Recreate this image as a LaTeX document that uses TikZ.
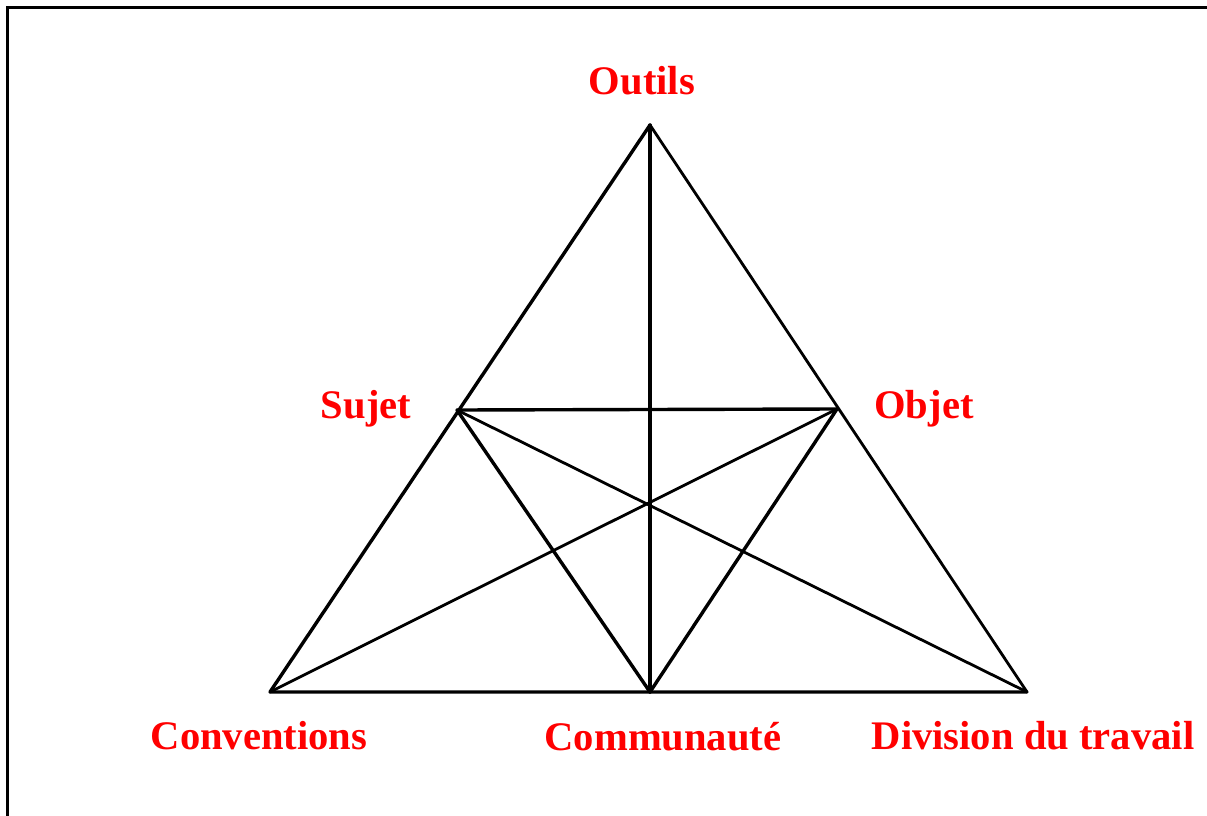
\documentclass[tikz,border=0pt]{standalone}
\usepackage{fontspec}
\setmainfont{Liberation Serif}
\begin{document}
\begin{tikzpicture}[x=1pt,y=-1pt,
  lbl/.style={text=red,font=\bfseries\fontsize{40.6}{48}\selectfont,anchor=base,inner sep=0pt},
  edge/.style={line width=3.4pt,line cap=round,line join=round},
  thin/.style={line width=2.8pt,line cap=round}]
\useasboundingbox (0,0) rectangle (1207,816);
\fill[white] (0,0) rectangle (1207,816);
\draw[line width=3pt] (7,816) -- (7,8) -- (1207,8);
\coordinate (O) at (650,125);
\coordinate (S) at (457,410);
\coordinate (B) at (837,409);
\coordinate (C) at (270,692);
\coordinate (M) at (650,692);
\coordinate (D) at (1027,692);
\draw[edge] (O) -- (C) -- (D);
\draw[thin] (D) -- (O);
\draw[edge] (O) -- (M);
\draw[edge] (S) -- (B);
\draw[edge] (S) -- (M) -- (B);
\draw[thin] (S) -- (D);
\draw[thin] (B) -- (C);
\node[lbl] (lo) at (642,94) {Outils};
\node[lbl] (ls) at (366,418) {Sujet};
\node[lbl] (lb) at (924,418) {Objet};
\node[lbl] (lc) at (259,749) {Conventions};
\node[lbl] (lm) at (663,750) {Communauté};
\node[lbl] (ld) at (1033,749) {Division du travail};
\end{tikzpicture}
\end{document}
